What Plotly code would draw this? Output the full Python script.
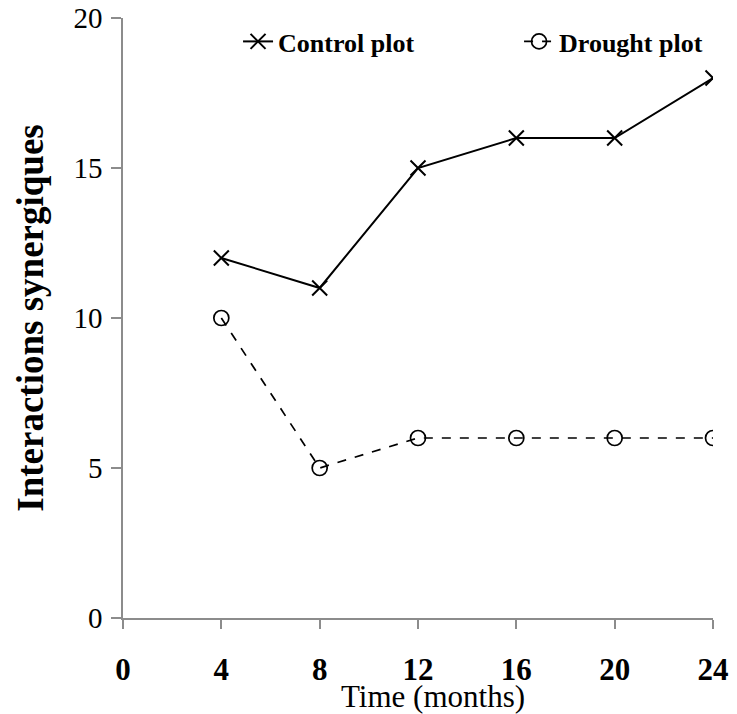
import plotly.graph_objects as go

months = [4, 8, 12, 16, 20, 24]
control = [12, 11, 15, 16, 16, 18]
drought = [10, 5, 6, 6, 6, 6]
x_ticks = [0, 4, 8, 12, 16, 20, 24]
y_ticks = [0, 5, 10, 15, 20]

fig = go.Figure()
fig.add_trace(go.Scatter(
    x=months, y=control, name="Control plot", mode="lines+markers",
    line=dict(color="black", width=2),
    marker=dict(symbol="x-thin", size=15, line=dict(color="black", width=2), color="black"),
))
fig.add_trace(go.Scatter(
    x=months, y=drought, name="Drought plot", mode="lines+markers",
    line=dict(color="black", width=1.7, dash="dash"),
    marker=dict(symbol="circle-open", size=15, line=dict(color="black", width=1.7), color="black"),
))

# page body adds an 8px offset, so the figure is 729x706 with margins reduced by 8
fig.update_layout(
    width=729, height=706,
    margin=dict(l=115, r=24, t=10, b=96, autoexpand=False),
    plot_bgcolor="white", paper_bgcolor="white",
    font=dict(family="Liberation Serif", color="black"),
    showlegend=True,
    legend=dict(orientation="h", x=0.195, y=1.0, xanchor="left", yanchor="top",
                font=dict(size=26, family="Liberation Serif", weight="bold"),
                bgcolor="rgba(0,0,0,0)", itemwidth=30, entrywidth=236, entrywidthmode="pixels"),
    annotations=[dict(text="Time (months)", xref="paper", yref="paper", x=0.525, y=-0.131,
                      xanchor="center", yanchor="middle", showarrow=False,
                      font=dict(size=31, family="Liberation Serif", color="black"))],
)
fig.update_xaxes(
    range=[0, 24], tickvals=x_ticks, ticktext=[f"<b>{v}</b>" for v in x_ticks],
    showline=True, linecolor="#8c8c8c", linewidth=1.5,
    ticks="outside", ticklen=9, tickcolor="#8c8c8c", tickwidth=1.5,
    showgrid=False, zeroline=False, automargin=False,
    tickfont=dict(size=31, family="Liberation Serif"),
    ticklabelstandoff=14, ticklabeloverflow="allow",
)
fig.update_yaxes(
    range=[0, 20], tickvals=y_ticks,
    showline=True, linecolor="#8c8c8c", linewidth=1.5,
    ticks="outside", ticklen=10, tickcolor="#8c8c8c", tickwidth=1.5,
    showgrid=False, zeroline=False, automargin=False,
    tickfont=dict(size=29, family="Liberation Serif"),
    ticklabelstandoff=3, ticklabeloverflow="allow",
    title=dict(text="<b>Interactions synergiques</b>", font=dict(size=37, family="Liberation Serif"), standoff=19),
)

fig.write_html("out.html")
